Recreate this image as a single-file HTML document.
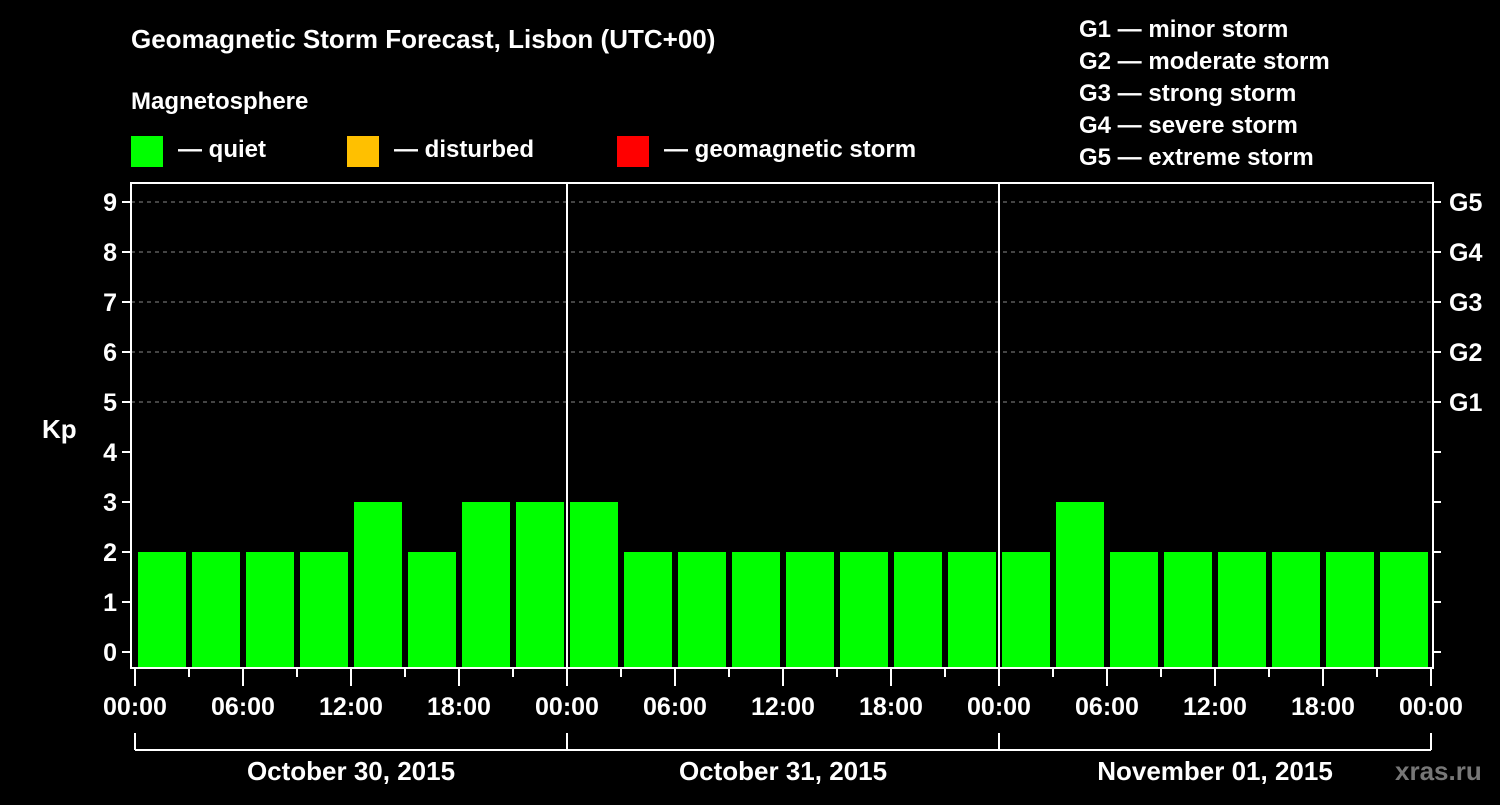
<!DOCTYPE html>
<html><head><meta charset="utf-8"><style>
html,body{margin:0;padding:0;background:#000;}
svg text{font-family:"Liberation Sans",Arial,sans-serif;font-weight:bold;fill:#fff;}
</style></head><body>
<svg id="chart" width="1500" height="800" viewBox="0 0 1500 800" xmlns="http://www.w3.org/2000/svg">
<rect width="1500" height="800" fill="#000"/>
<text x="131" y="48" font-size="26">Geomagnetic Storm Forecast, Lisbon (UTC+00)</text>
<text x="131" y="109" font-size="24">Magnetosphere</text>
<g><rect x="131" y="136" width="32" height="31" fill="#00ff00"/><text x="178" y="157" font-size="24">— quiet</text></g>
<g><rect x="347" y="136" width="32" height="31" fill="#ffc000"/><text x="394" y="157" font-size="24">— disturbed</text></g>
<g><rect x="617" y="136" width="32" height="31" fill="#ff0000"/><text x="664" y="157" font-size="24">— geomagnetic storm</text></g>
<g font-size="24">
<text x="1079" y="37">G1 — minor storm</text>
<text x="1079" y="69">G2 — moderate storm</text>
<text x="1079" y="101">G3 — strong storm</text>
<text x="1079" y="133">G4 — severe storm</text>
<text x="1079" y="165">G5 — extreme storm</text>
</g>
<text x="42" y="438" font-size="26">Kp</text>
<g id="grid"></g>
<g id="bars"></g>
<g id="axes"></g>
<text x="1395" y="780" font-size="26" fill="#777" style="fill:#777">xras.ru</text>
</svg>
<script>
const kpValues = [2,2,2,2,3,2,3,3, 3,2,2,2,2,2,2,2, 2,3,2,2,2,2,2,2];
const dayLabels = ["October 30, 2015","October 31, 2015","November 01, 2015"];
const hourLabels = ["00:00","06:00","12:00","18:00"];
const gLabels = ["G1","G2","G3","G4","G5"];
const yTicks = [0,1,2,3,4,5,6,7,8,9];

const NS="http://www.w3.org/2000/svg";
const L=131,R=1433,T=183,B=668,X0=135,PXH=18;
const x=h=>X0+h*PXH;
const y=v=>652-v*50;
function mk(tag,attrs,parent){const e=document.createElementNS(NS,tag);for(const k in attrs)e.setAttribute(k,attrs[k]);parent.appendChild(e);return e;}
const grid=document.getElementById('grid'),bars=document.getElementById('bars'),axes=document.getElementById('axes');
for(let v=5;v<=9;v++){
  const ln=mk('line',{x1:L,x2:R,y1:y(v),y2:y(v),stroke:'#888','stroke-dasharray':'4,4','stroke-width':1},grid);
  
  
}
kpValues.forEach((v,i)=>{
  const col=v>=5?'#ff0000':(v>=4?'#ffc000':'#00ff00');
  const r=mk('rect',{x:x(i*3)+3,width:48,y:y(v),height:B-y(v),fill:col},bars);
  
  
});
// frame
const fr=mk('rect',{x:L,y:T,width:R-L,height:B-T,fill:'none',stroke:'#fff','stroke-width':2},axes);


for(let d=1;d<dayLabels.length;d++){
  const ln=mk('line',{x1:x(d*24),x2:x(d*24),y1:T,y2:B,stroke:'#fff','stroke-width':2},axes);
  
  
}
yTicks.forEach(v=>{
  mk('line',{x1:L-9,x2:L,y1:y(v),y2:y(v),stroke:'#fff','stroke-width':2},axes);
  mk('line',{x1:R,x2:R+8,y1:y(v),y2:y(v),stroke:'#fff','stroke-width':2},axes);
  const t=mk('text',{x:L-14,y:y(v)+9,'text-anchor':'end','font-size':25},axes);
  t.textContent=v;
  
  
});
gLabels.forEach((g,i)=>{
  const t=mk('text',{x:1449,y:y(5+i)+9,'font-size':25},axes);
  t.textContent=g;
  
  
});
const totalH=dayLabels.length*24;
for(let h=0;h<=totalH;h+=3){
  const major=h%6===0;
  mk('line',{x1:x(h),x2:x(h),y1:B,y2:major?686:677,stroke:'#fff','stroke-width':2},axes);
  if(major){
    const t=mk('text',{x:x(h),y:715,'text-anchor':'middle','font-size':25},axes);
    t.textContent=hourLabels[(h%24)/6];
    
    
  }
}
mk('line',{x1:x(0),x2:x(totalH),y1:750,y2:750,stroke:'#fff','stroke-width':2},axes);
for(let d=0;d<=dayLabels.length;d++){
  mk('line',{x1:x(d*24),x2:x(d*24),y1:733,y2:750,stroke:'#fff','stroke-width':2},axes);
}
dayLabels.forEach((s,d)=>{
  const t=mk('text',{x:x(d*24+12),y:780,'text-anchor':'middle','font-size':26},axes);
  t.textContent=s;
  
  
});
</script>
</body></html>
